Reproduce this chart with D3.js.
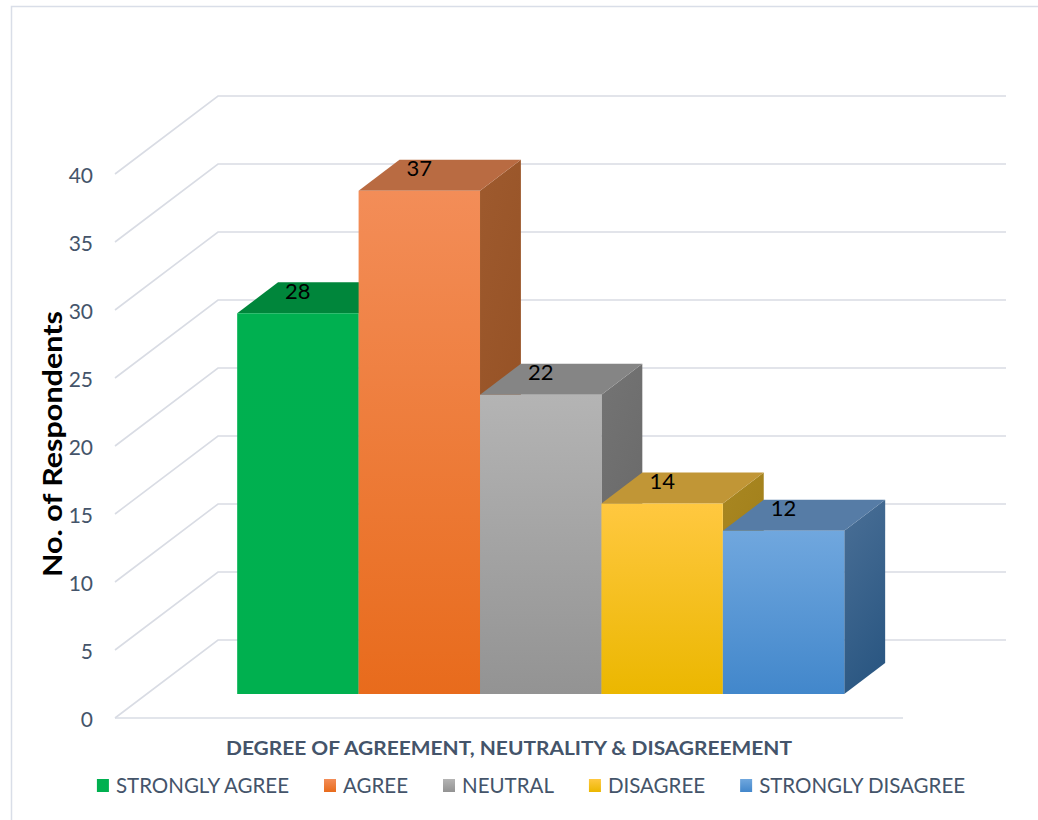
<!DOCTYPE html>
<html>
<head>
<meta charset="utf-8">
<script src="https://cdn.jsdelivr.net/npm/d3@7"></script>
<style>
  html, body { margin: 0; padding: 0; background: #ffffff; }
  svg { display: block; }
</style>
</head>
<body>
<svg id="chart" width="1038" height="820"></svg>
<script>
// Survey responses by degree of agreement
const categories = ["STRONGLY AGREE", "AGREE", "NEUTRAL", "DISAGREE", "STRONGLY DISAGREE"];
const values = [28, 37, 22, 14, 12];
const yTicks = [0, 5, 10, 15, 20, 25, 30, 35, 40];

// Face colours for each bar: front gradient (top, bottom), top face, side gradient (top, bottom)
const frontTopColors = ["#00b050", "#f38d58", "#b4b4b4", "#ffc840", "#70a7de"];
const frontBottomColors = ["#00b04f", "#e86b1c", "#939393", "#ebb700", "#4287cb"];
const topFaceColors = ["#00863b", "#b96b42", "#858585", "#c19636", "#567ca6"];
const sideTopColors = ["#006b30", "#9e5a2e", "#747474", "#a98722", "#4a6f96"];
const sideBottomColors = ["#005a28", "#934f22", "#666666", "#9c7a14", "#2c5883"];

const svg = d3.select("#chart");
const font = "Lato, 'Open Sans', 'Liberation Sans', sans-serif";
const axisGrey = "#44546a";
const gridColor = "#d9dce4";

// Oblique 3D layout: front plane plus a depth vector toward the back wall
const x0 = 115, plotW = 788;
const depthX = 103, depthY = -78;
const tFront = 0.308, tBack = 0.705;   // bar front/back depth as fraction of full depth

const y = d3.scaleLinear().domain([0, 40]).range([718, 174]);
const x = d3.scaleBand().domain(categories).range([x0, x0 + plotW])
  .paddingInner(0).paddingOuter(0.745);

const proj = (px, v, t) => [px + depthX * t, y(v) + depthY * t];

// Outer chart frame
svg.append("rect")
  .attr("x", 11.5).attr("y", 6.5).attr("width", 1040).attr("height", 830)
  .attr("fill", "none").attr("stroke", "#d9dee8").attr("stroke-width", 1.5);

// Gridlines: left wall diagonals and back wall horizontals
const grid = svg.append("g").attr("stroke", gridColor).attr("stroke-width", 1.6).attr("fill", "none");
yTicks.forEach(v => {
  const a = proj(x0, v, 0), b = proj(x0, v, 1), c = proj(x0 + plotW, v, 1);
  grid.append("path").attr("d", d3.line()([a, b, c]));
});
// Front edge of the floor
grid.append("path").attr("d", d3.line()([proj(x0, 0, 0), proj(x0 + plotW, 0, 0)]));

// Value axis labels
svg.append("g").selectAll("text").data(yTicks).join("text")
  .attr("x", 93).attr("y", d => y(d))
  .attr("text-anchor", "end").attr("dominant-baseline", "central")
  .attr("font-family", font).attr("font-size", 21).attr("fill", axisGrey)
  .text(d => d);

// Gradients
const defs = svg.append("defs");
categories.forEach((c, i) => {
  const gf = defs.append("linearGradient").attr("id", "front" + i)
    .attr("x1", 0).attr("y1", 0).attr("x2", 0).attr("y2", 1);
  gf.append("stop").attr("offset", "0%").attr("stop-color", frontTopColors[i]);
  gf.append("stop").attr("offset", "100%").attr("stop-color", frontBottomColors[i]);
  const gs = defs.append("linearGradient").attr("id", "side" + i)
    .attr("x1", 0).attr("y1", 0).attr("x2", 0.3).attr("y2", 1);
  gs.append("stop").attr("offset", "0%").attr("stop-color", sideTopColors[i]);
  gs.append("stop").attr("offset", "100%").attr("stop-color", sideBottomColors[i]);
});

// Bars, drawn left to right so each front face covers the previous side face
const bars = svg.append("g");
categories.forEach((c, i) => {
  const v = values[i];
  const l = x(c), r = x(c) + x.bandwidth();
  const g = bars.append("g");
  g.append("path").attr("fill", `url(#side${i})`)
    .attr("d", d3.line()([proj(r, 0, tFront), proj(r, 0, tBack), proj(r, v, tBack), proj(r, v, tFront)]) + "Z");
  g.append("path").attr("fill", topFaceColors[i])
    .attr("d", d3.line()([proj(l, v, tFront), proj(r, v, tFront), proj(r, v, tBack), proj(l, v, tBack)]) + "Z");
  g.append("path").attr("fill", `url(#front${i})`)
    .attr("d", d3.line()([proj(l, 0, tFront), proj(r, 0, tFront), proj(r, v, tFront), proj(l, v, tFront)]) + "Z");
});

// Value labels above each bar
svg.append("g").selectAll("text").data(categories).join("text")
  .attr("x", (c) => proj(x(c) + x.bandwidth() / 2, 0, tFront)[0])
  .attr("y", (c, i) => proj(0, values[i], tFront)[1] - 23)
  .attr("text-anchor", "middle").attr("dominant-baseline", "central")
  .attr("font-family", font).attr("font-size", 22).attr("fill", "#000000")
  .text((c, i) => values[i]);

// Axis titles
svg.append("text")
  .attr("transform", "translate(51,444) rotate(-90)")
  .attr("text-anchor", "middle").attr("dominant-baseline", "central")
  .attr("font-family", font).attr("font-size", 27).attr("font-weight", "bold").attr("fill", "#000000")
  .attr("textLength", 266).attr("lengthAdjust", "spacingAndGlyphs")
  .text("No. of Respondents");

svg.append("text")
  .attr("x", 509).attr("y", 747)
  .attr("text-anchor", "middle").attr("dominant-baseline", "central")
  .attr("font-family", font).attr("font-size", 19).attr("font-weight", "bold").attr("fill", axisGrey)
  .attr("textLength", 566).attr("lengthAdjust", "spacingAndGlyphs")
  .text("DEGREE OF AGREEMENT, NEUTRALITY & DISAGREEMENT");

// Legend
const legend = svg.append("g");
const items = categories.map((c, i) => {
  const g = legend.append("g");
  g.append("rect").attr("x", 0).attr("y", -6).attr("width", 12).attr("height", 13)
    .attr("fill", `url(#front${i})`);
  const t = g.append("text").attr("x", 19).attr("y", 0)
    .attr("dominant-baseline", "central")
    .attr("font-family", font).attr("font-size", 20.5).attr("fill", axisGrey)
    .text(c);
  return { g, w: 19 + t.node().getComputedTextLength() };
});
const gap = 35;
const total = d3.sum(items, d => d.w) + gap * (items.length - 1);
let cx = 531 - total / 2;
items.forEach(it => {
  it.g.attr("transform", `translate(${cx},785)`);
  cx += it.w + gap;
});
</script>
</body>
</html>
